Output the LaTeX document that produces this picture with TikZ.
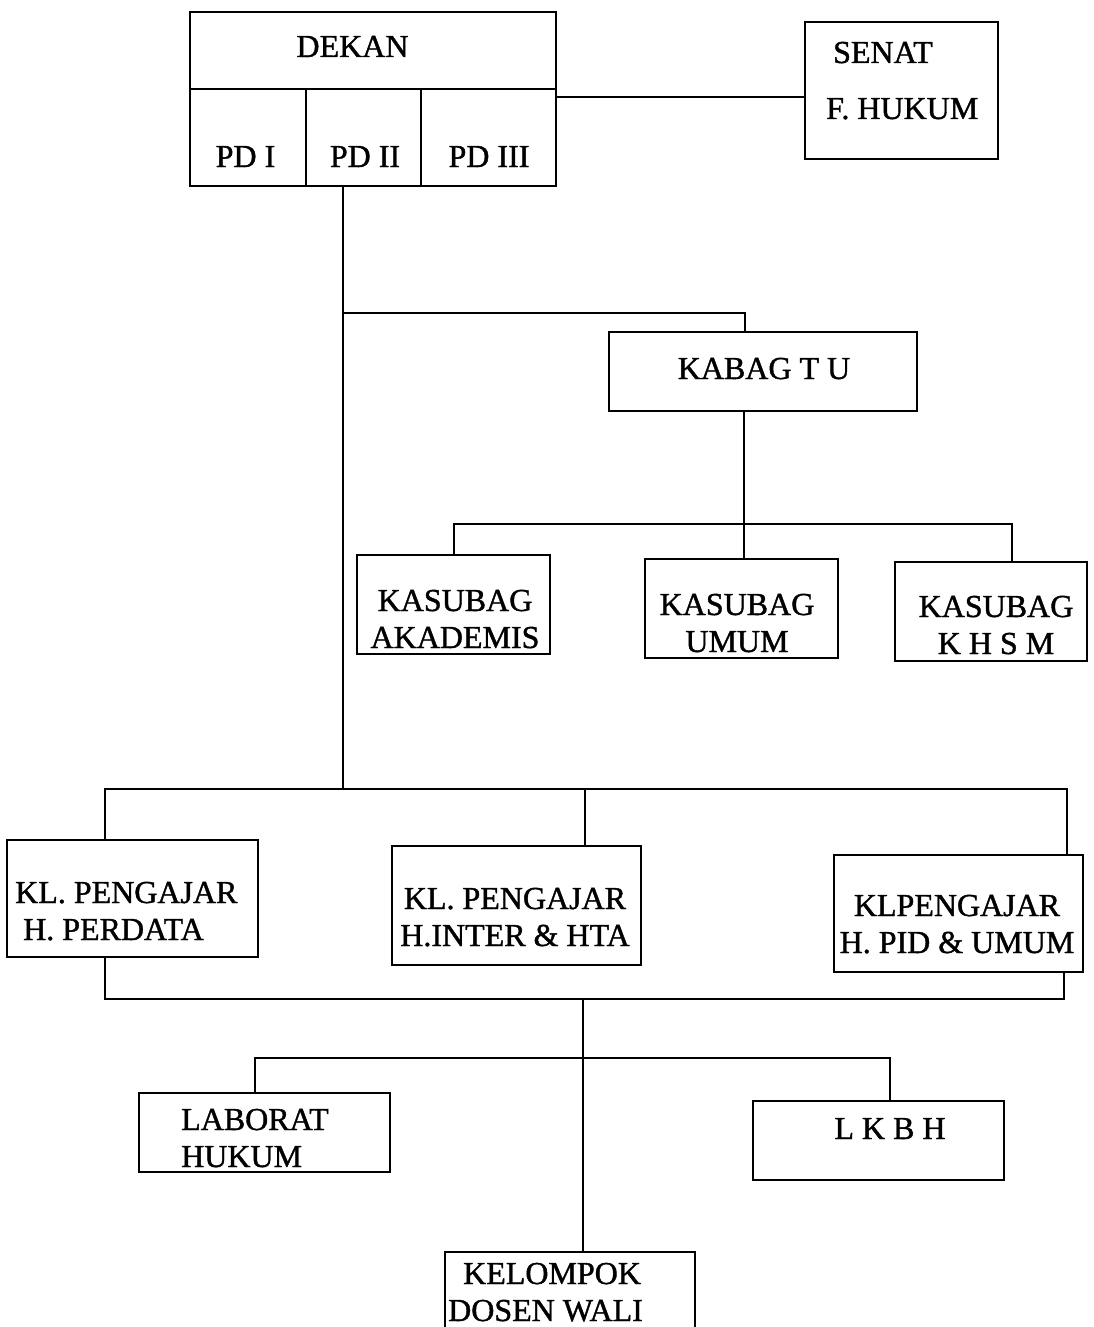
\documentclass[tikz,border=0pt]{standalone}
\usepackage{fontspec}
\setmainfont{Liberation Serif}[FakeBold=1.2]
\newcommand\twoc[2]{\begin{tabular}[b]{@{}c@{}}#1\\#2\end{tabular}}
\newcommand\twol[2]{\begin{tabular}[b]{@{}l@{}}#1\\#2\end{tabular}}
\begin{document}
\begin{tikzpicture}[x=1pt,y=-1pt,
  box/.style={draw, line width=2.4pt, inner sep=0pt},
  ln/.style={line width=2pt, line cap=rect},
  txt/.style={inner sep=0pt, font=\fontsize{32}{37}\selectfont}]
\useasboundingbox (0,0) rectangle (1094,1327);
\fill[white] (0,0) rectangle (1094,1327);

% bus levels
\coordinate (yS) at (0,97);
\coordinate (yB1) at (0,313);
\coordinate (yB2) at (0,524);
\coordinate (yB3) at (0,789);
\coordinate (yB4) at (0,999);
\coordinate (yB5) at (0,1058);

% boxes
\node[box, minimum width=366, minimum height=77] (dekan) at (373,50.5) {};
\node[box, minimum width=116, minimum height=97] (pd1) at (248,137.5) {};
\node[box, minimum width=115, minimum height=97] (pd2) at (363.5,137.5) {};
\node[box, minimum width=135, minimum height=97] (pd3) at (488.5,137.5) {};
\node[box, minimum width=193, minimum height=137] (senat) at (901.5,90.5) {};
\node[box, minimum width=308, minimum height=79] (kabag) at (763,371.5) {};
\node[box, minimum width=193, minimum height=99] (kaka) at (453.5,604.5) {};
\node[box, minimum width=193, minimum height=99] (kumum) at (741.5,608.5) {};
\node[box, minimum width=192, minimum height=99] (kkhsm) at (991,611.5) {};
\node[box, minimum width=251, minimum height=117] (perdata) at (132.5,898.5) {};
\node[box, minimum width=249, minimum height=119] (inter) at (516.5,905.5) {};
\node[box, minimum width=249, minimum height=117] (pid) at (958.5,913.5) {};
\node[box, minimum width=251, minimum height=79] (laborat) at (264.5,1132.5) {};
\node[box, minimum width=251, minimum height=79] (lkbh) at (878.5,1140.5) {};
\node[box, minimum width=250, minimum height=86] (kelompok) at (570,1295) {};

% texts
\node[txt, anchor=base] (t-dekan) at (352.5,57) {DEKAN};
\node[txt, anchor=base] (t-pd1) at (245.5,167) {PD I};
\node[txt, anchor=base] (t-pd2) at (365,167) {PD II};
\node[txt, anchor=base] (t-pd3) at (489,167) {PD III};
\node[txt, anchor=base west] (t-senat) at (826,119)
  {\begin{tabular}[b]{@{}l@{}}\hspace*{7pt}SENAT\\[19pt]F. HUKUM\end{tabular}};
\node[txt, anchor=base] (t-kabag) at (764,379) {KABAG T U};
\node[txt, anchor=base] (t-kaka) at (455,648) {\twoc{KASUBAG}{AKADEMIS}};
\node[txt, anchor=base] (t-kumum) at (737,652) {\twoc{KASUBAG}{UMUM}};
\node[txt, anchor=base] (t-kkhsm) at (996,654) {\twoc{KASUBAG}{K H S M}};
\node[txt, anchor=base west] (t-perdata) at (15,940)
  {\begin{tabular}[b]{@{}l@{}}KL. PENGAJAR\\\hspace*{8pt}H. PERDATA\end{tabular}};
\node[txt, anchor=base] (t-inter) at (515,946) {\twoc{KL. PENGAJAR}{H.INTER \& HTA}};
\node[txt, anchor=base] (t-pid) at (957,953) {\twoc{KLPENGAJAR}{H. PID \& UMUM}};
\node[txt, anchor=base west] (t-lab) at (181,1167) {\twol{LABORAT}{HUKUM}};
\node[txt, anchor=base] (t-lkbh) at (890,1139) {L K B H};
\node[txt, anchor=base west] (t-kel) at (448,1321)
  {\begin{tabular}[b]{@{}l@{}}\hspace*{15pt}KELOMPOK\\DOSEN WALI\end{tabular}};

% attachment points
\coordinate (trk) at ([xshift=-20.5pt]pd2.south);
\coordinate (kbn) at ([xshift=-18pt]kabag.north);
\coordinate (kbs) at ([xshift=-19pt]kabag.south);
\coordinate (kh) at ([xshift=21pt]kkhsm.north);
\coordinate (pl) at ([xshift=-27.5pt]perdata.north);
\coordinate (im) at ([xshift=68.5pt]inter.north);
\coordinate (pr) at ([xshift=-17pt]pid.north east);
\coordinate (pbl) at ([xshift=-27.5pt]perdata.south);
\coordinate (pbr) at ([xshift=-20pt]pid.south east);
\coordinate (kc) at ([xshift=13pt]kelompok.north);
\coordinate (lb) at ([xshift=-9.5pt]laborat.north);
\coordinate (lk) at ([xshift=11.5pt]lkbh.north);

% connectors
\draw[ln] (pd3.east |- yS) -- (senat.west |- yS);
\draw[ln] (trk) -- (trk |- yB3);
\draw[ln] (trk |- yB1) -- (kbn |- yB1) -- (kbn);
\draw[ln] (kbs) -- (kbs |- kumum.north);
\draw[ln] (kaka.north) -- (kaka.north |- yB2) -- (kh |- yB2) -- (kh);
\draw[ln] (pl) -- (pl |- yB3) -- (pr |- yB3) -- (pr);
\draw[ln] (im |- yB3) -- (im);
\draw[ln] (pbl) -- (pbl |- yB4) -- (pbr |- yB4) -- (pbr);
\draw[ln] (kc |- yB4) -- (kc);
\draw[ln] (lb) -- (lb |- yB5) -- (lk |- yB5) -- (lk);
\end{tikzpicture}
\end{document}
